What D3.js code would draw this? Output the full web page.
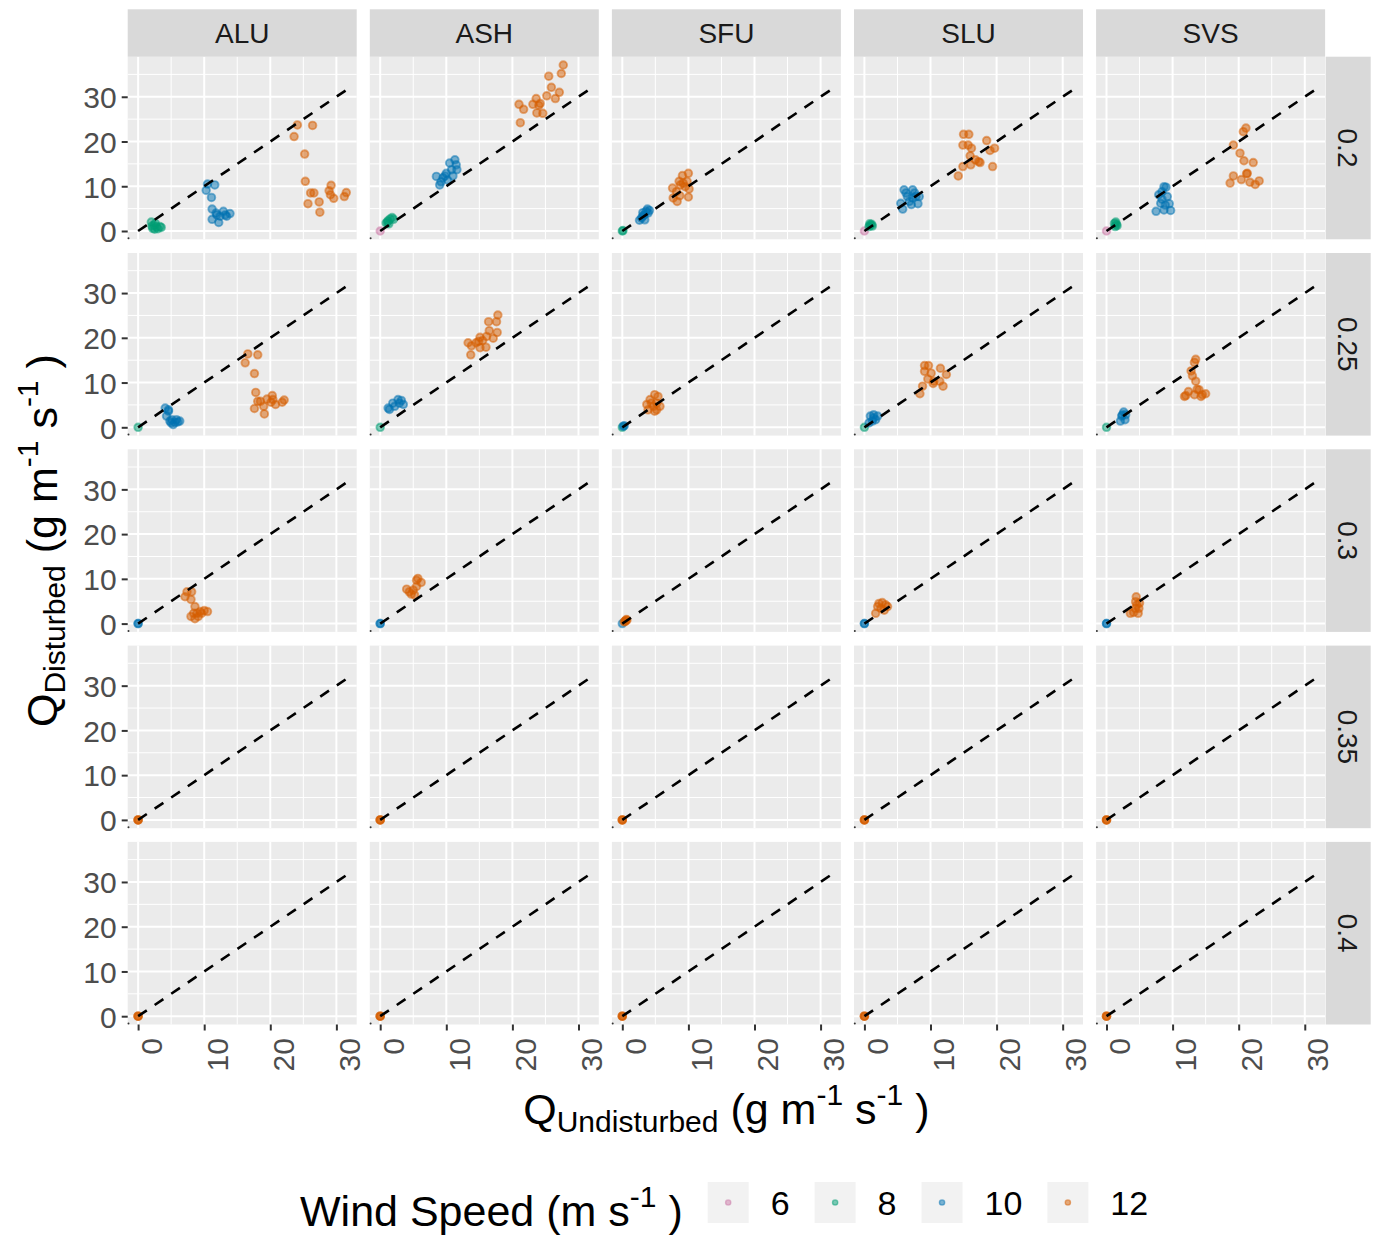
<!DOCTYPE html>
<html>
<head>
<meta charset="utf-8">
<script src="https://cdn.jsdelivr.net/npm/d3@7"></script>
<style>
body{margin:0;background:#fff}
svg text{font-family:"Liberation Sans",Arial,Helvetica,sans-serif}
</style>
</head>
<body>
<div id="chart"></div>
<script>
// facet levels, legend levels and ticks
var soils = ["ALU", "ASH", "SFU", "SLU", "SVS"];
var moistures = [0.2, 0.25, 0.3, 0.35, 0.4];
var windSpeeds = [6, 8, 10, 12];
var windColors = ["#CC79A7", "#009E73", "#0072B2", "#D55E00"];
var xTicks = [0, 10, 20, 30], xMinor = [5, 15, 25];
var yTicks = [0, 10, 20, 30], yMinor = [5, 15, 25, 35];
var oneToOne = [[0, 0], [32, 32]];

// rows: [moisture, wind speed, Q undisturbed, Q disturbed]
var ALU = [
 [0.2,8,2.0,2.0],[0.2,8,2.4,1.3],[0.2,8,2.8,0.9],[0.2,8,2.2,0.6],[0.2,8,3.3,1.0],[0.2,8,2.6,1.7],[0.2,8,3.0,0.5],[0.2,8,2.1,1.1],[0.2,8,3.5,0.8],[0.2,8,2.5,0.4],
 [0.2,10,10.5,10.5],[0.2,10,11.6,10.3],[0.2,10,10.3,9.1],[0.2,10,11.1,7.5],[0.2,10,11.2,4.9],[0.2,10,11.2,2.6],[0.2,10,12.2,1.9],[0.2,10,11.9,3.6],[0.2,10,12.9,4.4],[0.2,10,13.9,3.9],[0.2,10,13.4,3.3],[0.2,10,12.4,3.3],[0.2,10,11.8,4.0],[0.2,10,13.2,3.6],
 [0.2,12,24.1,23.7],[0.2,12,26.4,23.6],[0.2,12,23.6,21.1],[0.2,12,25.2,17.2],[0.2,12,25.3,11.1],[0.2,12,26.1,8.5],[0.2,12,26.6,8.5],[0.2,12,25.7,6.1],[0.2,12,27.4,6.5],[0.2,12,27.5,4.2],[0.2,12,28.9,9.0],[0.2,12,29.2,10.2],[0.2,12,29.6,7.3],[0.2,12,29.1,8.1],[0.2,12,31.2,7.7],[0.2,12,31.5,8.6],
 [0.25,8,0,0],
 [0.25,10,4.1,4.3],[0.25,10,4.6,3.6],[0.25,10,4.3,2.5],[0.25,10,4.8,1.4],[0.25,10,5.3,0.6],[0.25,10,5.8,1.7],[0.25,10,6.3,1.4],[0.25,10,5.1,1.7],[0.25,10,5.6,1.1],[0.25,10,4.6,3.9],[0.25,10,6.0,1.2],[0.25,10,5.0,1.0],
 [0.25,12,16.6,16.4],[0.25,12,18.1,16.2],[0.25,12,16.2,14.4],[0.25,12,17.6,12.0],[0.25,12,17.8,7.8],[0.25,12,18.1,5.8],[0.25,12,18.5,5.8],[0.25,12,17.6,4.2],[0.25,12,19.0,4.7],[0.25,12,19.1,3.0],[0.25,12,20.3,7.1],[0.25,12,20.4,6.2],[0.25,12,20.1,5.6],[0.25,12,20.8,5.1],[0.25,12,21.8,5.6],[0.25,12,22.1,6.1],[0.25,12,19.5,6.3],
 [0.3,10,0,0],[0.3,10,0,0],
 [0.3,12,7.4,7.1],[0.3,12,8.1,7.1],[0.3,12,7.1,6.0],[0.3,12,8.0,5.4],[0.3,12,8.6,3.8],[0.3,12,8.4,2.3],[0.3,12,8.9,2.3],[0.3,12,9.4,2.7],[0.3,12,10.0,2.9],[0.3,12,10.5,2.7],[0.3,12,9.1,1.6],[0.3,12,8.6,1.1],[0.3,12,9.6,2.3],[0.3,12,8.0,1.6],
 [0.35,12,0,0],[0.35,12,0,0],[0.35,12,0,0],
 [0.4,12,0,0],[0.4,12,0,0],[0.4,12,0,0]
];
var ASH = [
 [0.2,6,0,0],
 [0.2,8,0.9,1.8],[0.2,8,1.2,2.3],[0.2,8,1.5,2.7],[0.2,8,1.8,3.0],[0.2,8,1.3,1.6],[0.2,8,2.0,2.6],[0.2,8,1.1,2.0],
 [0.2,10,8.5,12.2],[0.2,10,9.0,10.3],[0.2,10,10.0,12.9],[0.2,10,10.5,15.2],[0.2,10,11.3,15.9],[0.2,10,11.6,13.7],[0.2,10,10.8,13.7],[0.2,10,9.5,11.9],[0.2,10,10.2,11.4],[0.2,10,11.0,12.3],[0.2,10,11.5,14.8],[0.2,10,9.2,11.0],[0.2,10,9.8,12.3],
 [0.2,12,27.7,37.1],[0.2,12,27.4,35.2],[0.2,12,25.5,34.6],[0.2,12,25.9,32.1],[0.2,12,27.1,31.0],[0.2,12,25.2,30.2],[0.2,12,26.5,29.6],[0.2,12,23.6,29.6],[0.2,12,23.1,28.3],[0.2,12,24.0,28.1],[0.2,12,24.2,28.5],[0.2,12,21.7,27.2],[0.2,12,21.0,28.3],[0.2,12,23.7,26.4],[0.2,12,24.6,26.3],[0.2,12,21.2,24.2],
 [0.25,8,0,0],
 [0.25,10,1.2,4.3],[0.25,10,1.9,5.4],[0.25,10,2.7,6.2],[0.25,10,3.2,6.0],[0.25,10,3.5,5.1],[0.25,10,2.2,4.7],[0.25,10,1.4,4.0],[0.25,10,2.9,5.4],
 [0.25,12,17.8,25.1],[0.25,12,16.4,23.6],[0.25,12,17.6,23.6],[0.25,12,16.5,21.6],[0.25,12,17.7,21.2],[0.25,12,13.3,18.9],[0.25,12,13.8,18.2],[0.25,12,15.1,20.1],[0.25,12,16.1,20.3],[0.25,12,14.9,19.2],[0.25,12,15.5,19.4],[0.25,12,15.1,17.8],[0.25,12,16.0,17.9],[0.25,12,17.1,19.9],[0.25,12,13.7,16.2],[0.25,12,14.5,18.9],
 [0.3,10,0,0],[0.3,10,0,0],
 [0.3,12,4.0,7.7],[0.3,12,5.0,7.5],[0.3,12,5.5,8.3],[0.3,12,5.7,10.1],[0.3,12,6.2,9.2],[0.3,12,5.2,6.4],[0.3,12,4.4,7.1],[0.3,12,4.7,6.6],[0.3,12,5.5,9.7],
 [0.35,12,0,0],[0.35,12,0,0],[0.35,12,0,0],
 [0.4,12,0,0],[0.4,12,0,0],[0.4,12,0,0]
];
var SFU = [
 [0.2,8,0,0],[0.2,8,0.1,0.1],
 [0.2,10,2.9,2.9],[0.2,10,3.3,3.6],[0.2,10,3.6,4.4],[0.2,10,3.8,4.9],[0.2,10,3.4,2.5],[0.2,10,2.6,2.4],[0.2,10,3.9,4.0],[0.2,10,3.1,3.3],[0.2,10,4.1,4.6],[0.2,10,3.1,4.1],
 [0.2,12,10.0,12.9],[0.2,12,9.1,12.4],[0.2,12,8.6,11.1],[0.2,12,9.8,11.1],[0.2,12,7.6,9.6],[0.2,12,9.5,9.9],[0.2,12,10.1,9.4],[0.2,12,8.8,10.3],[0.2,12,8.2,8.8],[0.2,12,7.7,7.4],[0.2,12,8.3,6.6],[0.2,12,10.0,7.6],[0.2,12,8.7,7.9],[0.2,12,9.2,10.7],
 [0.25,8,0,0],
 [0.25,10,0.15,0.25],[0.25,10,0.3,0.35],
 [0.25,12,4.9,7.3],[0.25,12,5.4,6.9],[0.25,12,4.2,6.2],[0.25,12,5.2,5.4],[0.25,12,3.7,5.1],[0.25,12,4.7,4.7],[0.25,12,5.7,4.7],[0.25,12,3.9,3.9],[0.25,12,4.9,3.6],[0.25,12,4.4,5.4],[0.25,12,5.2,3.9],
 [0.3,10,0,0],
 [0.3,12,0.3,0.4],[0.3,12,0.5,0.6],[0.3,12,0.7,0.8],[0.3,12,0.4,0.5],[0.3,12,0.6,0.9],
 [0.35,12,0,0],[0.35,12,0,0],[0.35,12,0,0],
 [0.4,12,0,0],[0.4,12,0,0],[0.4,12,0,0]
];
var SLU = [
 [0.2,6,0,0],
 [0.2,8,0.7,1.0],[0.2,8,0.9,1.3],[0.2,8,1.1,1.5],[0.2,8,0.8,1.6],[0.2,8,1.2,1.1],
 [0.2,10,6.0,9.2],[0.2,10,7.3,9.2],[0.2,10,6.5,7.7],[0.2,10,7.8,7.7],[0.2,10,5.5,6.2],[0.2,10,6.8,6.6],[0.2,10,8.1,6.1],[0.2,10,5.8,4.9],[0.2,10,7.3,7.4],[0.2,10,6.3,8.5],[0.2,10,7.6,8.5],[0.2,10,7.1,5.9],[0.2,10,8.3,7.7],
 [0.2,12,15.0,21.6],[0.2,12,15.8,21.6],[0.2,12,14.9,19.2],[0.2,12,15.7,19.2],[0.2,12,16.2,18.5],[0.2,12,16.0,16.8],[0.2,12,16.8,15.9],[0.2,12,17.3,15.5],[0.2,12,18.5,20.2],[0.2,12,19.7,18.5],[0.2,12,19.0,18.0],[0.2,12,14.9,14.4],[0.2,12,16.1,14.8],[0.2,12,19.4,14.4],[0.2,12,14.2,12.3],[0.2,12,17.5,15.3],
 [0.25,8,0,0],
 [0.25,10,0.9,2.5],[0.25,10,1.4,2.8],[0.25,10,1.7,1.7],[0.25,10,1.2,1.4],[0.25,10,2.0,2.5],[0.25,10,0.7,1.0],[0.25,10,1.4,2.1],
 [0.25,12,9.1,13.8],[0.25,12,9.7,13.8],[0.25,12,9.1,12.5],[0.25,12,10.1,12.1],[0.25,12,11.5,13.2],[0.25,12,12.4,11.8],[0.25,12,9.6,10.8],[0.25,12,10.5,10.3],[0.25,12,11.4,10.3],[0.25,12,11.9,9.2],[0.25,12,8.8,9.2],[0.25,12,8.4,7.5],[0.25,12,10.4,9.8],
 [0.3,10,0,0],[0.3,10,0,0],
 [0.3,12,2.2,4.5],[0.3,12,2.7,4.7],[0.3,12,3.2,4.2],[0.3,12,3.5,3.8],[0.3,12,2.5,3.4],[0.3,12,1.7,2.3],[0.3,12,3.0,3.0],[0.3,12,2.0,3.8],
 [0.35,12,0,0],[0.35,12,0,0],[0.35,12,0,0],
 [0.4,12,0,0],[0.4,12,0,0],[0.4,12,0,0]
];
var SVS = [
 [0.2,6,0,0],
 [0.2,8,1.3,1.0],[0.2,8,1.5,1.5],[0.2,8,1.4,2.0],[0.2,8,1.6,1.2],[0.2,8,1.2,1.7],
 [0.2,10,8.7,9.9],[0.2,10,8.4,8.8],[0.2,10,7.9,8.1],[0.2,10,9.2,7.7],[0.2,10,8.2,6.2],[0.2,10,8.9,5.8],[0.2,10,7.5,4.4],[0.2,10,8.7,4.7],[0.2,10,9.7,4.6],[0.2,10,9.5,6.1],[0.2,10,8.4,7.1],[0.2,10,9.0,9.8],
 [0.2,12,21.1,23.0],[0.2,12,20.7,22.2],[0.2,12,19.2,19.2],[0.2,12,20.2,17.4],[0.2,12,20.8,15.7],[0.2,12,22.2,15.3],[0.2,12,21.3,12.9],[0.2,12,19.2,12.3],[0.2,12,18.7,10.7],[0.2,12,20.4,11.5],[0.2,12,21.7,10.9],[0.2,12,22.5,10.4],[0.2,12,23.1,11.2],[0.2,12,21.2,12.8],
 [0.25,8,0,0],
 [0.25,10,2.6,3.4],[0.25,10,2.3,2.5],[0.25,10,2.8,1.7],[0.25,10,2.1,1.4],[0.25,10,2.4,2.8],[0.25,10,2.9,2.8],
 [0.25,12,13.5,15.2],[0.25,12,13.3,14.5],[0.25,12,12.8,12.6],[0.25,12,13.0,11.5],[0.25,12,13.5,10.3],[0.25,12,14.0,8.4],[0.25,12,14.5,7.3],[0.25,12,15.0,7.5],[0.25,12,14.3,6.9],[0.25,12,12.0,7.1],[0.25,12,11.8,6.9],[0.25,12,13.3,7.3],[0.25,12,12.4,8.0],[0.25,12,13.7,8.5],
 [0.3,10,0,0],[0.3,10,0,0],
 [0.3,12,4.5,6.0],[0.3,12,4.4,4.9],[0.3,12,4.6,4.2],[0.3,12,4.9,3.4],[0.3,12,3.6,2.3],[0.3,12,4.1,2.5],[0.3,12,4.8,2.3],[0.3,12,4.4,3.4],[0.3,12,5.0,4.6],
 [0.35,12,0,0],[0.35,12,0,0],[0.35,12,0,0],
 [0.4,12,0,0],[0.4,12,0,0],[0.4,12,0,0]
];

var bySoil = {ALU: ALU, ASH: ASH, SFU: SFU, SLU: SLU, SVS: SVS};
var all = [].concat(ALU, ASH, SFU, SLU, SVS);

var width = 1376, height = 1238;
var left0 = 127.7, colStep = 242.1, panelW = 229;
var top0 = 56.7, rowStep = 196.3, panelH = 182.6;
var stripTop = 9.3, stripRight = 1325.7;
var font = '"Liberation Sans",Arial,Helvetica,sans-serif';

var svg = d3.select("#chart").append("svg")
    .attr("width", width)
    .attr("height", height);
svg.append("rect").attr("width", width).attr("height", height).attr("fill", "#fff");

// ggplot style 5% expansion of the data range
var xMax = d3.max(all, function(d) { return d[2]; });
var yMax = d3.max(all, function(d) { return d[3]; });
var x = d3.scaleLinear().domain([-0.05 * xMax, 1.05 * xMax]).range([0, panelW]);
var y = d3.scaleLinear().domain([-0.05 * yMax, 1.05 * yMax]).range([panelH, 0]);
var color = d3.scaleOrdinal().domain(windSpeeds).range(windColors);

var line = d3.line()
    .x(function(d) { return x(d[0]); })
    .y(function(d) { return y(d[1]); });

soils.forEach(function(soil, c) {
  moistures.forEach(function(m, r) {
    var g = svg.append("g")
        .attr("transform", "translate(" + (left0 + c * colStep) + "," + (top0 + r * rowStep) + ")");

    g.append("rect").attr("width", panelW).attr("height", panelH).attr("fill", "#EBEBEB");

    g.selectAll(".vmin").data(xMinor).enter().append("line")
        .attr("x1", x).attr("x2", x).attr("y1", 0).attr("y2", panelH)
        .attr("stroke", "#fff").attr("stroke-width", 1);
    g.selectAll(".hmin").data(yMinor).enter().append("line")
        .attr("y1", y).attr("y2", y).attr("x1", 0).attr("x2", panelW)
        .attr("stroke", "#fff").attr("stroke-width", 1);
    g.selectAll(".vmaj").data(xTicks).enter().append("line")
        .attr("x1", x).attr("x2", x).attr("y1", 0).attr("y2", panelH)
        .attr("stroke", "#fff").attr("stroke-width", 2);
    g.selectAll(".hmaj").data(yTicks).enter().append("line")
        .attr("y1", y).attr("y2", y).attr("x1", 0).attr("x2", panelW)
        .attr("stroke", "#fff").attr("stroke-width", 2);

    var pts = bySoil[soil].filter(function(d) { return d[0] === m; });
    g.selectAll("circle.pt").data(pts).enter().append("circle")
        .attr("class", "pt")
        .attr("cx", function(d) { return x(d[2]); })
        .attr("cy", function(d) { return y(d[3]); })
        .attr("r", 3.8)
        .attr("fill", function(d) { return color(d[1]); })
        .attr("fill-opacity", 0.5)
        .attr("stroke", function(d) { return color(d[1]); })
        .attr("stroke-opacity", 0.5)
        .attr("stroke-width", 1.9);

    g.append("path")
        .datum(oneToOne)
        .attr("d", line)
        .attr("fill", "none")
        .attr("stroke", "#000")
        .attr("stroke-width", 2.6)
        .attr("stroke-dasharray", "10.5,9.5");

    // tiny corner mark seen in each panel
    g.append("circle")
        .attr("cx", x(x.domain()[0]) + 0.8).attr("cy", y(y.domain()[0]) - 1)
        .attr("r", 1).attr("fill", "#333");

    if (c === 0) {
      var ay = g.append("g").call(d3.axisLeft(y).tickValues(yTicks).tickSize(6).tickPadding(5));
      ay.select(".domain").remove();
      ay.selectAll("line").attr("stroke", "#333").attr("stroke-width", 2);
      ay.selectAll("text").attr("fill", "#4D4D4D").attr("dy", "0.36em")
          .style("font-size", "30px").style("font-family", font);
    }
    if (r === moistures.length - 1) {
      var ax = g.append("g").attr("transform", "translate(0," + panelH + ")")
          .call(d3.axisBottom(x).tickValues(xTicks).tickSize(6));
      ax.select(".domain").remove();
      ax.selectAll("line").attr("stroke", "#333").attr("stroke-width", 2);
      ax.selectAll("text")
          .attr("transform", "rotate(-90)")
          .attr("text-anchor", "end")
          .attr("x", -13.5).attr("y", 0).attr("dy", "0.77em")
          .attr("fill", "#4D4D4D")
          .style("font-size", "30px").style("font-family", font);
    }
  });
});

// top strips
soils.forEach(function(soil, c) {
  var sx = left0 + c * colStep;
  svg.append("rect").attr("x", sx).attr("y", stripTop).attr("width", panelW).attr("height", top0 - stripTop)
      .attr("fill", "#D9D9D9");
  svg.append("text").attr("x", sx + panelW / 2).attr("y", (stripTop + top0) / 2).attr("dy", "0.36em")
      .attr("text-anchor", "middle").attr("fill", "#1A1A1A").style("font-size", "28px")
      .text(soil);
});

// right strips
moistures.forEach(function(m, r) {
  var sy = top0 + r * rowStep;
  svg.append("rect").attr("x", stripRight).attr("y", sy).attr("width", 45).attr("height", panelH)
      .attr("fill", "#D9D9D9");
  svg.append("text")
      .attr("transform", "translate(" + (stripRight + 22.5) + "," + (sy + panelH / 2) + ") rotate(90)")
      .attr("dy", "0.36em").attr("text-anchor", "middle").attr("fill", "#1A1A1A")
      .style("font-size", "28px").text(String(m));
});

// axis titles with sub/superscripts
function titleParts(t, parts) {
  parts.forEach(function(p) {
    t.append("tspan").attr("dy", p[2]).style("font-size", p[1] + "px").text(p[0]);
  });
}
var xt = svg.append("text").attr("x", left0 + (4 * colStep + panelW) / 2).attr("y", 1124)
    .attr("text-anchor", "middle").attr("fill", "#000");
titleParts(xt, [["Q", 43, 0], ["Undisturbed", 30, 8], ["\u00a0(g m", 43, -8], ["-1", 30, -19],
    ["\u00a0s", 43, 19], ["-1", 30, -19], ["\u00a0)", 43, 19]]);

var yt = svg.append("text")
    .attr("transform", "translate(57," + (top0 + (4 * rowStep + panelH) / 2) + ") rotate(-90)")
    .attr("text-anchor", "middle").attr("fill", "#000");
titleParts(yt, [["Q", 43, 0], ["Disturbed", 30, 8], ["\u00a0(g m", 43, -8], ["-1", 30, -19],
    ["\u00a0s", 43, 19], ["-1", 30, -19], ["\u00a0)", 43, 19]]);

// legend
var lt = svg.append("text").attr("x", 300).attr("y", 1226).attr("fill", "#000");
titleParts(lt, [["Wind Speed (m s", 43, 0], ["-1", 30, -19], ["\u00a0)", 43, 19]]);

var cursor = 707.7, keySize = 41;
windSpeeds.forEach(function(w) {
  svg.append("rect").attr("x", cursor).attr("y", 1182).attr("width", keySize).attr("height", keySize)
      .attr("fill", "#F2F2F2");
  svg.append("circle").attr("cx", cursor + keySize / 2).attr("cy", 1182 + keySize / 2).attr("r", 2.6)
      .attr("fill", color(w)).attr("fill-opacity", 0.5)
      .attr("stroke", color(w)).attr("stroke-opacity", 0.5).attr("stroke-width", 1.4);
  var lab = svg.append("text").attr("x", cursor + keySize + 22).attr("y", 1215)
      .attr("fill", "#000").style("font-size", "34px").text(w);
  cursor = cursor + keySize + 22 + lab.node().getComputedTextLength() + 25;
});
</script>
</body>
</html>
